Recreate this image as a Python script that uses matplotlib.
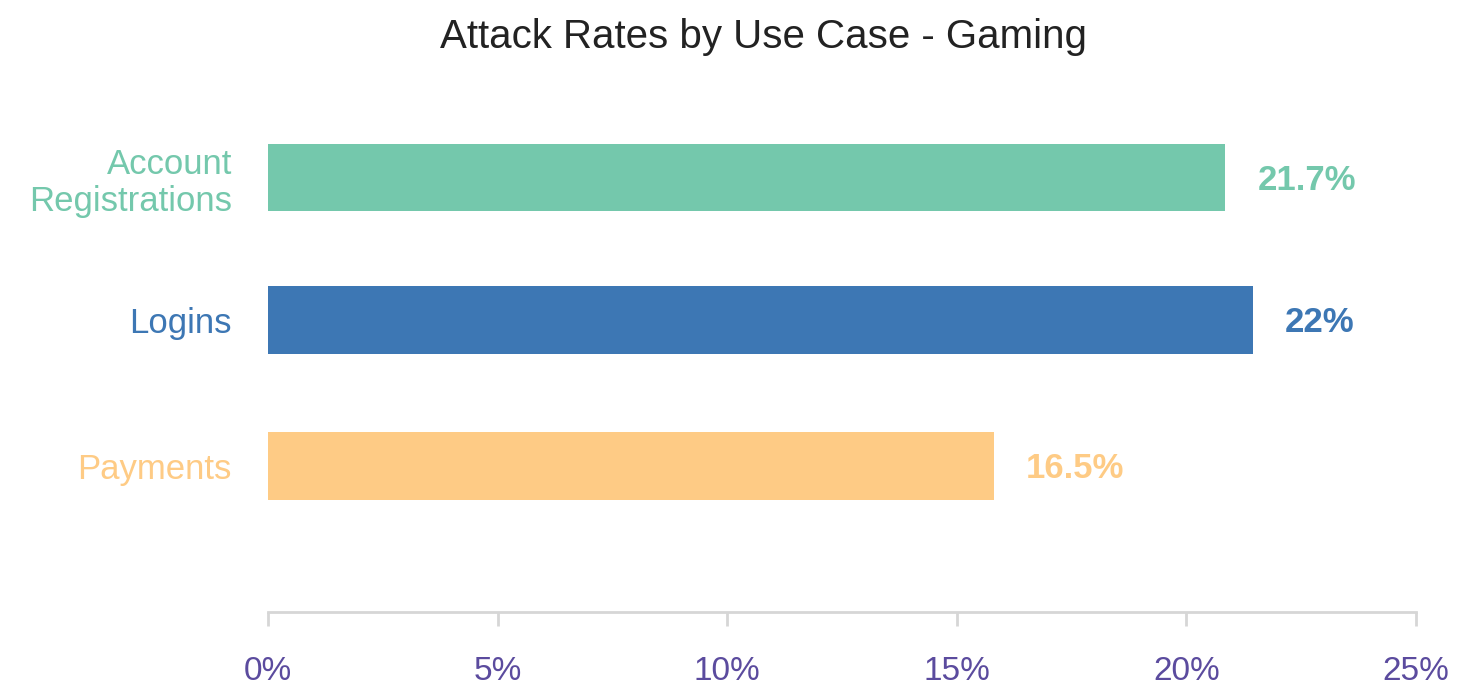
import numpy as np
import matplotlib.pyplot as plt

plt.rcParams['font.family'] = ['Liberation Sans', 'DejaVu Sans']

categories = ["Account\nRegistrations", "Logins", "Payments"]
bar_values = [20.85, 21.45, 15.8]
value_labels = ["21.7%", "22%", "16.5%"]
colors = ["#74C8AC", "#3D77B4", "#FECB85"]
xticks = [0, 5, 10, 15, 20, 25]
xtick_labels = ["0%", "5%", "10%", "15%", "20%", "25%"]

fig = plt.figure(figsize=(14.65, 6.88), dpi=100)
ax = fig.add_axes([268 / 1465, 1 - 612 / 688, (1416 - 268) / 1465, (612 - 100) / 688])

ypos = np.array([2.0, 1.012, 0.0])
ax.barh(ypos, bar_values, height=0.47, color=colors)
ax.set_xlim(0, 25)
ax.set_ylim(-1.013, 2.537)

# value labels sit a little right of each bar end
for y, v, lab, c in zip(ypos, bar_values, value_labels, colors):
    ax.annotate(lab, (v, y), xytext=(23, -2), textcoords='offset points',
                ha='left', va='center', fontsize=25, fontweight='bold', color=c)

ax.set_yticks(ypos)
ax.set_yticklabels(categories, fontsize=25, linespacing=1.15)
for t, c in zip(ax.get_yticklabels(), colors):
    t.set_color(c)
ax.tick_params(axis='y', length=0, pad=26)

ax.set_xticks(xticks)
ax.set_xticklabels(xtick_labels, fontsize=24, color="#5B4B9E")
ax.tick_params(axis='x', length=10, width=2, color="#D6D6D6", pad=22)

for s in ['top', 'right', 'left']:
    ax.spines[s].set_visible(False)
ax.spines['bottom'].set_color("#D6D6D6")
ax.spines['bottom'].set_linewidth(2)

fig.text(764 / 1465, 1 - 37 / 688, "Attack Rates by Use Case - Gaming", ha='center', va='center',
         fontsize=29, color="#222222")

fig.savefig("out.png", dpi=100)
